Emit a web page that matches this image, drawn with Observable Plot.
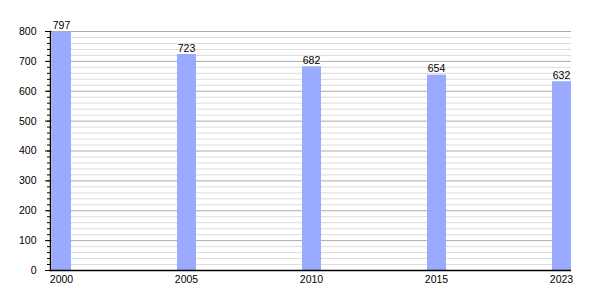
<!DOCTYPE html>
<html>
<head>
<meta charset="utf-8">
<script src="https://cdn.jsdelivr.net/npm/d3@7"></script>
<script src="https://cdn.jsdelivr.net/npm/@observablehq/plot@0.6"></script>
<style>
  html, body { margin: 0; padding: 0; background: #fff; }
</style>
</head>
<body>
<div id="chart"></div>
<script>
const years = ["2000", "2005", "2010", "2015", "2023"];
const population = [797, 723, 682, 654, 632];
const majorTicks = [0, 100, 200, 300, 400, 500, 600, 700, 800];
const minorTicks = d3.range(0, 801, 20);

const data = years.map((y, i) => ({ year: y, value: population[i] }));

const chart = Plot.plot({
  width: 600,
  height: 300,
  marginLeft: 50,
  marginRight: 29,
  marginTop: 31,
  marginBottom: 30,
  style: { fontFamily: "'Liberation Sans', Arial, sans-serif", fontSize: "10.5px", background: "#fff", color: "#000" },
  x: { type: "band", domain: years, paddingInner: 0.84, paddingOuter: 0, label: null },
  y: { domain: [0, 800], label: null },
  marks: [
    Plot.ruleY(minorTicks.filter(v => v % 100 !== 0), { stroke: "#dcdcdc", strokeOpacity: 1 }),
    Plot.ruleY(majorTicks.filter(v => v > 0), { stroke: "#aaaaaa", strokeOpacity: 1 }),
    Plot.barY(data, { x: "year", y: "value", fill: "#99aaff", insetLeft: 1, insetRight: 0 }),
    Plot.text(data, { x: "year", y: "value", text: d => String(d.value), dy: -3, lineAnchor: "bottom", fill: "#000" }),
    Plot.axisY({ ticks: minorTicks, tickSize: 3, tickFormat: () => "", strokeOpacity: 1 }),
    Plot.axisY({ ticks: majorTicks, tickSize: 5, tickPadding: 9, label: null, strokeOpacity: 1 }),
    Plot.axisX({ tickSize: 0, tickPadding: 5, label: null }),
    Plot.ruleY([0], { stroke: "#000", strokeWidth: 1.5 }),
    Plot.frame({ anchor: "left", stroke: "#000", strokeWidth: 1.5 })
  ]
});
document.getElementById("chart").appendChild(chart);
</script>
</body>
</html>
